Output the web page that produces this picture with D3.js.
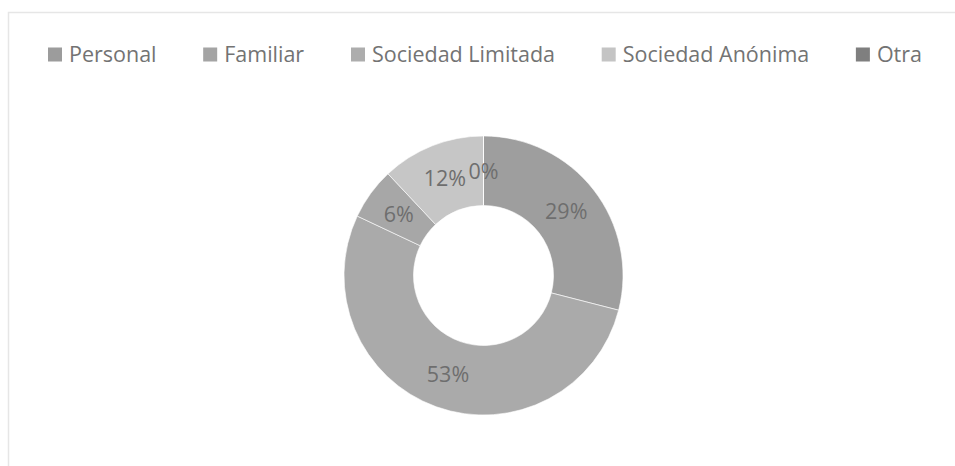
<!DOCTYPE html>
<html>
<head>
<meta charset="utf-8">
<script src="https://cdn.jsdelivr.net/npm/d3@7"></script>
<style>
  html, body { margin: 0; padding: 0; background: #fff; }
  svg { display: block; }
</style>
</head>
<body>
<svg id="chart" width="955" height="466"></svg>
<script>
// Company type breakdown (percent of respondents)
const categories = ["Personal", "Familiar", "Sociedad Limitada", "Sociedad Anónima", "Otra"];
const values = [29, 53, 6, 12, 0];
const sliceColors = ["#9e9e9e", "#aaaaaa", "#a7a7a7", "#c6c6c6", "#808080"];
const legendColors = ["#9c9c9c", "#a4a4a4", "#adadad", "#c4c4c4", "#7f7f7f"];

const W = 955, H = 466;
const svg = d3.select("#chart");
const font = "'Open Sans', 'Noto Sans', sans-serif";

// Outer chart frame
svg.append("rect")
  .attr("x", 8.5).attr("y", 12.5)
  .attr("width", W + 20).attr("height", H + 20)
  .attr("fill", "none").attr("stroke", "#e6e6e6").attr("stroke-width", 1.5);

const cx = 483.5, cy = 275.5, outerR = 139.5, innerR = 70;

const pie = d3.pie().sort(null).value(d => d.value);
const arcs = pie(categories.map((c, i) => ({ name: c, value: values[i], i })));
const arc = d3.arc().innerRadius(innerR).outerRadius(outerR);

const g = svg.append("g").attr("transform", `translate(${cx},${cy})`);

g.selectAll("path.slice")
  .data(arcs)
  .join("path")
  .attr("class", "slice")
  .attr("d", arc)
  .attr("fill", d => sliceColors[d.data.i])
  .attr("stroke", "#ffffff")
  .attr("stroke-width", 0.6);

const fmt = d3.format(".0%");
g.selectAll("text.lbl")
  .data(arcs)
  .join("text")
  .attr("class", "lbl")
  .attr("transform", d => `translate(${arc.centroid(d)})`)
  .attr("text-anchor", "middle")
  .attr("dy", "0.36em")
  .attr("font-family", font)
  .attr("font-size", 21.5)
  .attr("fill", "#6e6e6e")
  .text(d => fmt(d.data.value / 100));

// Legend row spread across the top of the plot
const legend = svg.append("g");
const sq = 14, gapText = 7;
const legendLeft = 48, legendRight = 922;
const items = legend.selectAll("g.item")
  .data(categories)
  .join("g")
  .attr("class", "item");

items.append("rect")
  .attr("width", sq).attr("height", sq)
  .attr("y", 47.5)
  .attr("fill", (d, i) => legendColors[i]);

items.append("text")
  .attr("x", sq + gapText)
  .attr("y", 62)
  .attr("font-family", font)
  .attr("font-size", 21.5)
  .attr("fill", "#737373")
  .text(d => d);

let widths = [];
items.each(function () { widths.push(this.getBBox().width); });
const gapItem = (legendRight - legendLeft - d3.sum(widths)) / (widths.length - 1);
let x = legendLeft;
items.attr("transform", (d, i) => {
  const t = `translate(${x},0)`;
  x += widths[i] + gapItem;
  return t;
});
</script>
</body>
</html>
